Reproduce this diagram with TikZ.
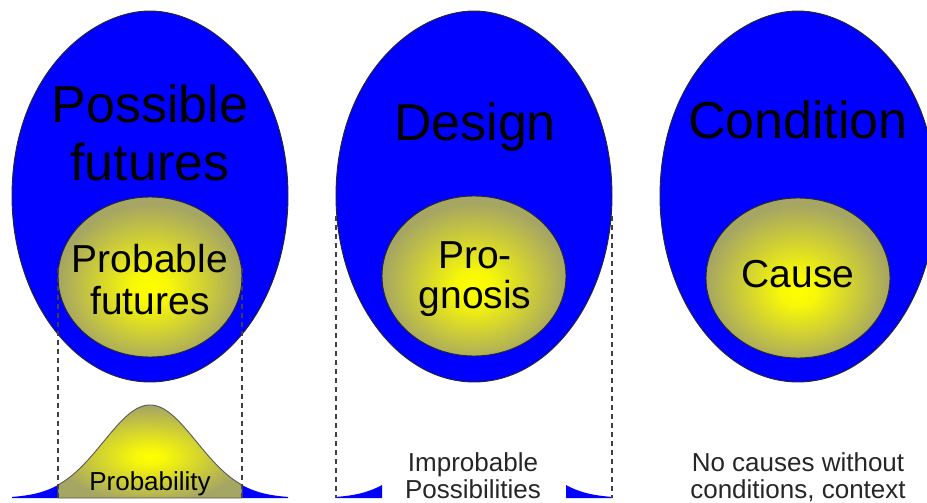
\documentclass[tikz,border=0pt]{standalone}
\usepackage{fontspec}
\setmainfont{Liberation Sans}
\definecolor{eggblue}{RGB}{0,0,255}
\definecolor{glowin}{RGB}{255,255,0}
\definecolor{glowout}{RGB}{165,165,100}
\definecolor{edgegray}{RGB}{40,40,40}
\pgfdeclareradialshading{glow}{\pgfpoint{0bp}{-4bp}}{color(0bp)=(glowin); color(5bp)=(glowin!92!glowout); color(25bp)=(glowout); color(50bp)=(glowout)}
\pgfdeclareradialshading{bellglow}{\pgfpoint{0bp}{-3bp}}{color(0bp)=(glowin); color(4bp)=(glowin!92!glowout); color(26bp)=(glowout); color(50bp)=(glowout)}
\newcommand{\eggpath}[1]{% #1 = centre x
  (#1-138,196) .. controls (#1-138,76) and (#1-60,11) .. (#1,11)
  .. controls (#1+60,11) and (#1+138,76) .. (#1+138,196)
  .. controls (#1+138,298) and (#1+76,382) .. (#1,382)
  .. controls (#1-76,382) and (#1-138,298) .. (#1-138,196) -- cycle}
\tikzset{
  outeregg/.style={fill=eggblue, draw=edgegray, line width=0.9pt},
  innerglow/.style={ellipse, minimum width=184pt, minimum height=160pt, inner sep=0pt,
    draw=edgegray, line width=0.9pt, shading=glow},
  bigtxt/.style={anchor=base, font=\fontsize{52}{58}\selectfont, inner sep=0pt},
  midtxt/.style={anchor=base, font=\fontsize{39}{41}\selectfont, inner sep=0pt},
  smalltxt/.style={anchor=base, font=\fontsize{26}{28}\selectfont, text=black!85, inner sep=0pt},
  guideline/.style={draw=black!75, line width=1.4pt, dash pattern=on 5pt off 4pt},
  tailfill/.style={fill=eggblue, draw=none},
}
\usetikzlibrary{shapes.geometric}
\begin{document}
\begin{tikzpicture}[x=1pt, y=-1pt]
\useasboundingbox (0,0) rectangle (927,503);
\clip (0,0) rectangle (927,503);
% ---- outer eggs
\path[outeregg] \eggpath{150};
\path[outeregg] \eggpath{474};
\path[outeregg] \eggpath{798};
% ---- inner ellipses
\node[innerglow] (in1) at (150,277) {};
\node[innerglow] (in2) at (474,276) {};
\node[innerglow] (in3) at (798,278) {};
% ---- egg texts
\node[bigtxt] (t1a) at (150,122) {Possible};
\node[bigtxt] (t1b) at (150,180) {futures};
\node[bigtxt] (t2) at (475,140) {Design};
\node[bigtxt] (t3) at (798,139) {Condition};
\node[midtxt] (p1a) at (150,272) {Probable};
\node[midtxt] (p1b) at (150,314) {futures};
\node[midtxt] (p2a) at (475,268) {Pro-};
\node[midtxt] (p2b) at (475,308) {gnosis};
\node[midtxt] (p3) at (798,287) {Cause};
% ---- bell curve (left)
\path[tailfill] (12,498) -- plot[domain=-138:-92, samples=40] ({150+\x},{498-93*exp(-0.5*(\x/46.4)*(\x/46.4))}) -- (58,498) -- cycle;
\path[tailfill] (242,498) -- plot[domain=92:138, samples=40] ({150+\x},{498-93*exp(-0.5*(\x/46.4)*(\x/46.4))}) -- (288,498) -- cycle;
\path[draw=black!65, line width=0.9pt, shading=bellglow] (58,498) -- plot[domain=-92:92, samples=100] ({150+\x},{498-93*exp(-0.5*(\x/46.4)*(\x/46.4))}) -- (242,498) -- cycle;
% ---- tails (middle)
\path[tailfill] (336,498) -- plot[domain=-138:-92, samples=40] ({474+\x},{498-93*exp(-0.5*(\x/46.4)*(\x/46.4))}) -- (382,498) -- cycle;
\path[tailfill] (566,498) -- plot[domain=92:138, samples=40] ({474+\x},{498-93*exp(-0.5*(\x/46.4)*(\x/46.4))}) -- (612,498) -- cycle;
% ---- dashed guides
\coordinate (g1t) at (58,268);  \coordinate (g1b) at (58,498);
\coordinate (g2t) at (242,268); \coordinate (g2b) at (242,498);
\coordinate (g3t) at (336,216); \coordinate (g3b) at (336,498);
\coordinate (g4t) at (612,216); \coordinate (g4b) at (612,498);
\draw[guideline] (g1t) -- (g1b);
\draw[guideline] (g2t) -- (g2b);
\draw[guideline] (g3t) -- (g3b);
\draw[guideline] (g4t) -- (g4b);
% ---- bottom texts
\node[smalltxt, text=black] (b1) at (150,490) {Probability};
\node[smalltxt] (b2a) at (473,471) {Improbable};
\node[smalltxt] (b2b) at (473,498) {Possibilities};
\node[smalltxt] (b3a) at (798,471) {No causes without};
\node[smalltxt] (b3b) at (798,498) {conditions, context};
\end{tikzpicture}
\end{document}
